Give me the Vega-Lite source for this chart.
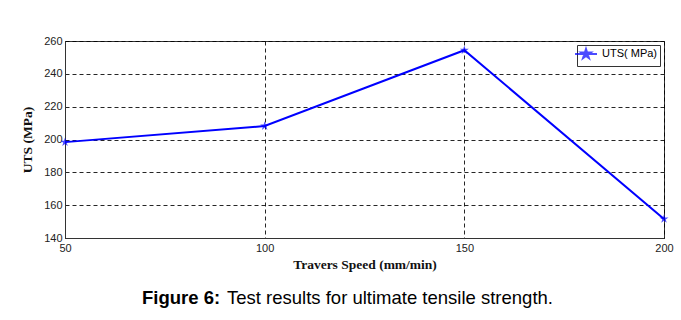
{
  "$schema": "https://vega.github.io/schema/vega-lite/v6.json",
  "background": "white",
  "padding": {"left": 20, "top": 34, "right": 0, "bottom": 0},
  "title": {
    "text": "Figure 6:",
    "orient": "bottom",
    "anchor": "start",
    "frame": "group",
    "font": "Liberation Sans",
    "fontSize": 18.5,
    "fontWeight": "bold",
    "color": "#000000",
    "dx": 77,
    "offset": -18.5
  },
  "config": {
    "view": {"stroke": "#333333", "strokeWidth": 1},
    "axis": {
      "domainColor": "#333333",
      "labelFont": "Liberation Sans",
      "labelFontSize": 11,
      "labelColor": "#222222",
      "labelFlush": false,
      "titleFont": "Liberation Serif",
      "titleFontSize": 13.5,
      "titleFontWeight": "bold",
      "titleColor": "#111111",
      "gridColor": "#000000",
      "gridDash": [4, 3],
      "gridOpacity": 0.85,
      "gridWidth": 1,
      "ticks": false
    }
  },
  "vconcat": [
    {
      "width": 599,
      "height": 197,
      "title": {
        "text": "Test results for ultimate tensile strength.",
        "orient": "bottom",
        "anchor": "start",
        "frame": "group",
        "font": "Liberation Sans",
        "fontSize": 18.5,
        "fontWeight": "normal",
        "color": "#000000",
        "dx": 162,
        "offset": 18
      },
      "data": {
        "values": [
          {"speed": 50, "uts": 198.4, "series": "UTS( MPa)"},
          {"speed": 100, "uts": 208.2, "series": "UTS( MPa)"},
          {"speed": 150, "uts": 254.4, "series": "UTS( MPa)"},
          {"speed": 200, "uts": 151.6, "series": "UTS( MPa)"}
        ]
      },
      "encoding": {
        "x": {
          "field": "speed",
          "type": "quantitative",
          "scale": {"domain": [50, 200], "nice": false, "zero": false},
          "axis": {"values": [50, 100, 150, 200], "title": "Travers Speed (mm/min)", "labelPadding": 4, "titlePadding": 4, "grid": true}
        },
        "y": {
          "field": "uts",
          "type": "quantitative",
          "scale": {"domain": [140, 260], "nice": false, "zero": false},
          "axis": {"values": [140, 160, 180, 200, 220, 240, 260], "title": "UTS (MPa)", "labelPadding": 3, "titlePadding": 9, "grid": true}
        },
        "color": {
          "field": "series",
          "type": "nominal",
          "scale": {"range": ["#0000ff"]},
          "legend": {
            "title": null,
            "orient": "top-right",
            "offset": 4,
            "strokeColor": "#333333",
            "fillColor": "#ffffff",
            "padding": 3,
            "labelFont": "Liberation Sans",
            "labelFontSize": 11,
            "labelColor": "#000000",
            "labelOffset": 10,
            "symbolType": "M-2.2,0L2.2,0M0,-1L0.223,-0.307L0.951,-0.309L0.361,0.117L0.588,0.809L0,0.38L-0.588,0.809L-0.361,0.117L-0.951,-0.309L-0.223,-0.307Z",
            "symbolSize": 100,
            "symbolFillColor": "#0000ff",
            "symbolStrokeColor": "#0000ff",
            "symbolStrokeWidth": 2
          }
        }
      },
      "layer": [
        {"mark": {"type": "line", "strokeWidth": 2, "clip": false}, "encoding": {}},
        {"mark": {"type": "point", "shape": "M0,-1L0.223,-0.307L0.951,-0.309L0.361,0.117L0.588,0.809L0,0.38L-0.588,0.809L-0.361,0.117L-0.951,-0.309L-0.223,-0.307Z", "filled": true, "size": 90, "clip": false}, "encoding": {}}
      ]
    }
  ]
}
